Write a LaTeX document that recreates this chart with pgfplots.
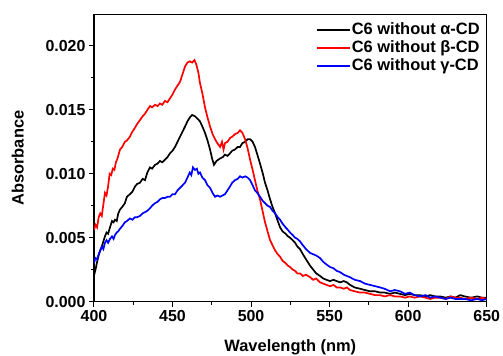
\documentclass[border=0pt]{standalone}
\usepackage{fontspec}
\setmainfont{Liberation Sans}
\usepackage{pgfplots}
\pgfplotsset{compat=1.18}
\usepackage{pgfplotstable}

\pgfplotstableread{
x y
400 0.0056
401 0.0060
402 0.0058
403 0.0066
404 0.0069
405 0.0067
406 0.0076
407 0.0085
408 0.0083
409 0.0090
410 0.0100
411 0.0099
412 0.0104
413 0.0103
414 0.0109
415 0.0112
416.6 0.0119
418 0.0121
419.7 0.0125
421 0.0126
422.9 0.0129
424 0.0132
426.1 0.0136
427.5 0.0139
429.3 0.0142
431 0.0145
432.5 0.0147
434 0.0150
435.7 0.0153
437 0.0152
438.9 0.0154
440.5 0.0153
442 0.0155
443.5 0.0154
445.2 0.0157
446.8 0.0156
448.4 0.0159
450 0.0162
451.6 0.0166
453.2 0.0169
454.8 0.0172
456.4 0.0178
458 0.0184
459.5 0.0187
461 0.0188
462.5 0.0187
464 0.0189
465.3 0.0185
466.5 0.0179
467.5 0.0171
469 0.0163
470.7 0.0152
472.3 0.0144
473.9 0.0137
475.5 0.0131
477.1 0.0127
478.5 0.0124
480.3 0.0121
481.5 0.0125
482.5 0.0119
483.4 0.0124
485 0.0125
486.6 0.0128
488 0.0129
489.8 0.0131
491.5 0.0132
493 0.0134
494.5 0.0132
496.2 0.0127
497.8 0.0120
499.4 0.0111
501 0.0103
502.5 0.0095
504 0.0087
505.7 0.0080
507.3 0.0071
508.9 0.0062
510.5 0.0055
512.1 0.0048
513.7 0.0044
515.3 0.0040
517 0.0037
518.5 0.0035
520 0.0032
522 0.0030
523.5 0.0028
524.8 0.0027
526.5 0.0025
528 0.0024
529.5 0.0022
531.2 0.0022
533 0.0020
535 0.0021
537.6 0.0019
539.5 0.0017
541.5 0.0018
543.9 0.0015
546 0.0014
548 0.0013
550.3 0.0012
552.5 0.0013
554.5 0.0011
556.7 0.0011
559 0.0010
561 0.0011
563 0.0009
566 0.0008
569.4 0.0007
572.5 0.0007
575.8 0.0006
579 0.0005
582.2 0.0005
585 0.0004
588.5 0.0005
591.5 0.0004
594.9 0.0004
598 0.0003
601 0.0004
604 0.0003
607.6 0.0004
611 0.0003
614 0.0002
617 0.0003
620.4 0.0003
624 0.0002
627 0.0004
630 0.0003
633.1 0.0003
636 0.0002
640 0.0003
644 0.0002
647 0.0003
650 0.0002
}\betadata

\pgfplotstableread{
x y
400 0.0020
401 0.0025
402 0.0031
403 0.0036
404 0.0040
405 0.0043
406 0.0047
407 0.0051
408 0.0054
409 0.0053
410.2 0.0058
411.5 0.0063
412.5 0.0062
413.4 0.0064
414.5 0.0063
415.5 0.0069
416.6 0.0072
418 0.0074
419.7 0.0077
421 0.0082
422.9 0.0084
424.5 0.0086
426.1 0.0090
427.5 0.0092
429.3 0.0093
431 0.0096
432.5 0.0095
434 0.0101
435.7 0.0105
437 0.0104
438.9 0.0107
440.5 0.0108
442 0.0110
443.5 0.0109
445.2 0.0111
446.8 0.0113
448.4 0.0116
450 0.0118
451.6 0.0121
453.2 0.0125
454.8 0.0129
456.4 0.0133
458 0.0137
459.5 0.0141
461 0.0144
462.5 0.0146
464.3 0.0145
466 0.0143
467.5 0.0141
469 0.0137
470.7 0.0132
472.3 0.0126
473.9 0.0119
475.2 0.0112
476.4 0.0107
478 0.0110
480.3 0.0112
482 0.0113
483.4 0.0115
485 0.0114
486.6 0.0116
488 0.0118
489.8 0.0119
491.5 0.0121
493 0.0121
494.5 0.0124
496.2 0.0125
497.8 0.0127
499.4 0.0127
501 0.0125
502.5 0.0121
504 0.0115
505.7 0.0108
507.3 0.0101
508.9 0.0093
510.5 0.0087
512.1 0.0080
513.7 0.0074
515.3 0.0069
517 0.0063
518.5 0.0058
520 0.0055
522 0.0053
523.5 0.0051
524.8 0.0050
526.5 0.0048
528 0.0046
529.5 0.0043
531.2 0.0041
533 0.0037
535 0.0033
537.6 0.0028
539.5 0.0025
541.5 0.0022
543.9 0.0020
546 0.0018
548 0.0017
550.3 0.0016
552.5 0.0017
554.5 0.0016
556.7 0.0015
559 0.0016
561 0.0015
563 0.0013
566 0.0011
569.4 0.0010
572.5 0.0009
575.8 0.0008
579 0.0008
582.2 0.0007
585 0.0007
588.5 0.0006
591.5 0.0007
594.9 0.0006
598 0.0005
601 0.0006
604 0.0005
607.6 0.0005
611 0.0004
614 0.0005
617 0.0004
620.4 0.0004
624 0.0003
627 0.0004
630 0.0003
633.1 0.0005
636 0.0004
640 0.0003
644 0.0004
647 0.0003
650 0.0003
}\alphadata

\pgfplotstableread{
x y
400 0.0030
401 0.0034
402 0.0033
403 0.0037
404 0.0040
405 0.0043
406 0.0041
407 0.0046
408 0.0048
409 0.0046
410.2 0.0049
411.5 0.0051
412.5 0.0049
413.4 0.0052
414.5 0.0054
415.5 0.0055
416.6 0.0057
418 0.0059
419.7 0.0062
421 0.0063
422.9 0.0065
424.5 0.0064
426.1 0.0066
427.5 0.0066
429.3 0.0067
431 0.0069
432.5 0.0070
434 0.0071
435.7 0.0073
437 0.0075
438.9 0.0077
440.5 0.0078
442 0.0080
443.5 0.0081
445.2 0.0081
446.8 0.0082
448.4 0.0082
450 0.0084
451.6 0.0084
453.2 0.0087
454.8 0.0089
456.4 0.0091
458 0.0093
459.5 0.0097
461 0.0101
462 0.0099
463 0.0105
464.3 0.0103
465.5 0.0104
466.5 0.0100
467.5 0.0101
469 0.0097
470.7 0.0095
472.3 0.0091
473.9 0.0089
475.5 0.0085
477.1 0.0082
478.5 0.0083
480.3 0.0082
481.8 0.0083
483.4 0.0084
485 0.0087
486.6 0.0090
488 0.0093
489.8 0.0095
491.5 0.0096
493 0.0098
494.5 0.0097
496.2 0.0098
497.8 0.0097
499.4 0.0095
501 0.0091
502.5 0.0087
504 0.0085
505.7 0.0082
507.3 0.0079
508.9 0.0077
510.5 0.0075
512.1 0.0074
513.7 0.0071
515.3 0.0069
517 0.0066
518.5 0.0064
520 0.0061
522 0.0058
523.5 0.0056
524.8 0.0054
526.5 0.0052
528 0.0050
529.5 0.0049
531.2 0.0047
533 0.0044
535 0.0041
537.6 0.0038
539.5 0.0037
541.5 0.0036
543.9 0.0034
546 0.0031
548 0.0029
550.3 0.0027
552.5 0.0026
554.5 0.0024
556.7 0.0023
559 0.0021
561 0.0020
563 0.0019
566 0.0017
569.4 0.0016
572.5 0.0014
575.8 0.0013
579 0.0012
582.2 0.0011
585 0.0010
588.5 0.0008
591.5 0.0009
594.9 0.0008
598 0.0006
601 0.0007
604 0.0005
607.6 0.0004
611 0.0005
614 0.0003
617 0.0004
620.4 0.0003
624 0.0002
627 0.0003
630 0.0002
633.1 0.0002
636 0.0002
640 0.0001
644 0.0002
647 0.0001
650 0.0002
}\gammadata

\begin{document}
\begin{tikzpicture}
\begin{axis}[
  name=ax,
  scale only axis,
  width=393bp, height=287bp,
  xmin=400, xmax=650,
  ymin=0, ymax=0.02245,
  xtick={400,450,...,650},
  ytick={0,0.005,0.01,0.015,0.02},
  minor x tick num=1,
  minor y tick num=1,
  tick pos=left,
  tick align=outside,
  major tick length=5bp,
  minor tick length=3bp,
  every tick/.style={black, line width=1bp},
  axis line style={line width=1.2bp},
  scaled y ticks=false,
  /pgf/number format/assume math mode=true,
  yticklabel style={/pgf/number format/.cd, fixed, fixed zerofill, precision=3},
  xticklabel style={/pgf/number format/.cd, fixed, precision=0},
  tick label style={font=\fontsize{16}{18}\selectfont\bfseries},
  label style={font=\fontsize{16.5}{18}\selectfont\bfseries},
  xlabel={Wavelength (nm)},
  ylabel={Absorbance},
  xlabel style={yshift=-11bp},
  ylabel style={yshift=15bp},
  legend style={at={(0.558,0.985)}, anchor=north west, draw=none, fill=none,
    font=\fontsize{16.5}{18}\selectfont\bfseries, row sep=0bp,
    nodes={inner sep=1bp, text height=12bp, text depth=4bp}},
  legend cell align=left,
  legend image code/.code={\draw[#1, line width=1.6bp] (0bp,0bp) -- (33bp,0bp);},
]
\addplot[black, line width=1.7bp] table {\alphadata};
\addlegendentry{C6 without α-CD}
\addplot[red, line width=1.7bp] table {\betadata};
\addlegendentry{C6 without β-CD}
\addplot[blue, line width=1.7bp] table {\gammadata};
\addlegendentry{C6 without γ-CD}
\end{axis}
\pgfresetboundingbox
\path ([xshift=-94bp,yshift=-54.3bp]ax.south west) rectangle ([xshift=16.3bp,yshift=14.7bp]ax.north east);
\end{tikzpicture}
\end{document}
